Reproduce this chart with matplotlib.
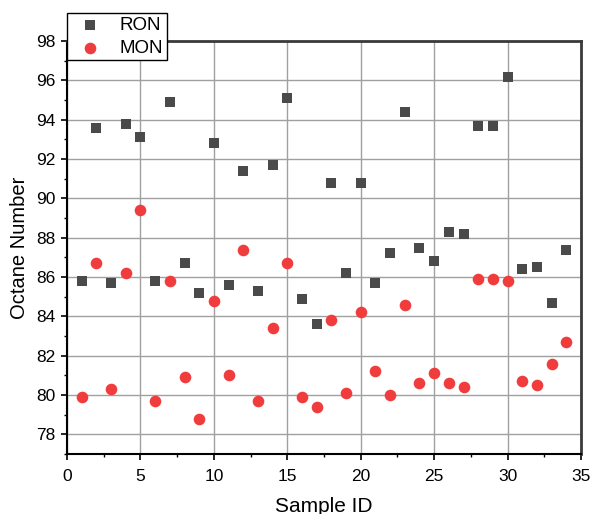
import matplotlib.pyplot as plt
from matplotlib.ticker import MultipleLocator

plt.rcParams['font.family'] = ['Liberation Sans', 'DejaVu Sans']

sample_id = list(range(1, 35))
ron = [85.8, 93.6, 85.7, 93.8, 93.1, 85.8, 94.9, 86.7, 85.2, 92.8,
       85.6, 91.4, 85.3, 91.7, 95.1, 84.9, 83.6, 90.8, 86.2, 90.8,
       85.7, 87.2, 94.4, 87.5, 86.8, 88.3, 88.2, 93.7, 93.7, 96.2,
       86.4, 86.5, 84.7, 87.4]
mon = [79.9, 86.7, 80.3, 86.2, 89.4, 79.7, 85.8, 80.9, 78.8, 84.8,
       81.0, 87.4, 79.7, 83.4, 86.7, 79.9, 79.4, 83.8, 80.1, 84.2,
       81.2, 80.0, 84.6, 80.6, 81.1, 80.6, 80.4, 85.9, 85.9, 85.8,
       80.7, 80.5, 81.6, 82.7]

fig = plt.figure(figsize=(5.91, 5.14), dpi=100)
ax = fig.add_axes([0.1134, 0.1167, 0.8697, 0.8033])

ax.grid(True, color='#a0a0a0', linewidth=1.0, zorder=0)
ax.set_axisbelow(True)

ax.scatter(sample_id, ron, marker='s', s=55, color='#4a4a4a', linewidths=0,
           label='RON', zorder=3)
ax.scatter(sample_id, mon, marker='o', s=70, color='#f03c3c', linewidths=0,
           label='MON', zorder=3)

ax.set_xlim(0, 35)
ax.set_ylim(77, 98)
ax.xaxis.set_major_locator(MultipleLocator(5))
ax.xaxis.set_minor_locator(MultipleLocator(2.5))
ax.yaxis.set_major_locator(MultipleLocator(2))
ax.yaxis.set_minor_locator(MultipleLocator(1))
ax.tick_params(which='major', direction='out', length=4.5, width=1.2,
               labelsize=12.5, colors='black')
ax.tick_params(axis='x', which='major', pad=6.5)
ax.tick_params(axis='y', which='major', pad=4)
ax.tick_params(which='minor', direction='out', length=2.5, width=1.0)

for side in ['left', 'bottom']:
    ax.spines[side].set_linewidth(1.5)
    ax.spines[side].set_color('black')
for side in ['top', 'right']:
    ax.spines[side].set_linewidth(2.0)
    ax.spines[side].set_color('#3a3a3a')

# the label is clipped at the bottom edge in the original too
ax.set_xlabel('Sample ID', fontsize=15, labelpad=9)
ax.set_ylabel('Octane Number', fontsize=14.5, labelpad=5)

leg = ax.legend(loc='upper left', bbox_to_anchor=(0.0, 1.068), fontsize=13.5,
                frameon=True, fancybox=False, edgecolor='black',
                framealpha=1, markerscale=1.0, handletextpad=0.6,
                borderpad=0.2, labelspacing=0.3, borderaxespad=0,
                handlelength=2.0)
leg.get_frame().set_linewidth(1.0)
leg.set_zorder(5)

fig.savefig('out.png', dpi=100)
